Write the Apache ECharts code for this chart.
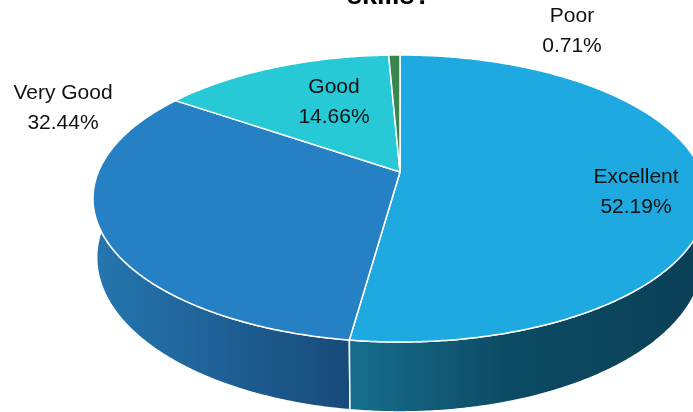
<!DOCTYPE html>
<html>
<head>
<meta charset="utf-8">
<script src="https://cdn.jsdelivr.net/npm/echarts@6/dist/echarts.min.js"></script>
<style>
html,body{margin:0;padding:0;background:#fff;}
#chart{width:693px;height:412px;}
</style>
</head>
<body>
<div id="chart"></div>
<script>
// ---- data ----
const categories = ['Excellent', 'Very Good', 'Good', 'Poor'];
const values = [52.19, 32.44, 14.66, 0.71];
const titleText = 'skills?';

// ---- styles / layout ----
const topColors = ['#1EAAE0', '#2581C4', '#27C9D6', '#3A8550'];
const wallStops = [
  [[0, '#176E8E'], [0.45, '#0C4A63'], [1, '#0A4056']],
  [[0, '#2576B0'], [1, '#184A7A']],
  [[0, '#1C8F99'], [1, '#136870']],
  [[0, '#2A6139'], [1, '#1E4629']]
];
const labelAnchors = [[636, 192], [63, 108], [334, 102], [572, 31]];
const geo = { cx: 400, cy: 172, S: 301.7, T: 138.6, k: 0.1847, D: 57, s: 0.988 };

function proj(u, v) {
  const w = 1 + geo.k * v;
  return [geo.cx + geo.S * u / w, geo.cy - geo.T * v / w];
}
function projBottom(u, v) {
  const w = 1 + geo.k * v;
  return [geo.cx + geo.s * geo.S * u / w, geo.cy - geo.T * v / w + geo.D / w];
}
function angPt(deg, f) {
  const r = deg * Math.PI / 180;
  return f(Math.sin(r), Math.cos(r));
}
function sliceRange(i) {
  const total = values.reduce((a, b) => a + b, 0);
  let s = 0;
  for (let j = 0; j < i; j++) s += values[j];
  return [s / total * 360, (s + values[i]) / total * 360];
}
function arc(a1, a2, f) {
  const n = Math.max(2, Math.ceil(Math.abs(a2 - a1) / 0.5));
  const pts = [];
  for (let j = 0; j <= n; j++) pts.push(angPt(a1 + (a2 - a1) * j / n, f));
  return pts;
}

const chart = echarts.init(document.getElementById('chart'), null, { renderer: 'canvas' });

const seriesData = values.map((v, i) => ({ name: categories[i], value: [i, v] }));

const option = {
  animation: false,
  backgroundColor: '#ffffff',
  graphic: [{
    type: 'text',
    x: 389, y: -3,
    style: {
      text: titleText,
      font: 'bold 27px "Liberation Sans", Arial, sans-serif',
      fill: '#000',
      align: 'center',
      verticalAlign: 'middle'
    },
    z: 10
  }],
  series: [
    {
      type: 'custom',
      coordinateSystem: 'none',
      silent: true,
      z: 1,
      data: seriesData.slice().reverse(),
      renderItem: function (params, api) {
        const i = api.value(0);
        const [a1, a2] = sliceRange(i);
        const b1 = Math.max(a1, 90), b2 = Math.min(a2, 270);
        if (b2 <= b1) return { type: 'group', children: [] };
        const top = arc(b1, b2, proj);
        const bot = arc(b1, b2, projBottom).reverse();
        const xs = top.concat(bot).map(p => p[0]);
        const minX = Math.min.apply(null, xs), maxX = Math.max.apply(null, xs);
        const grad = new echarts.graphic.LinearGradient(minX, 0, maxX, 0,
          wallStops[i].map(s => ({ offset: s[0], color: s[1] })), true);
        return {
          type: 'polygon',
          shape: { points: top.concat(bot) },
          style: { fill: grad, stroke: '#ffffff', lineWidth: 1.5, lineJoin: 'round' }
        };
      }
    },
    {
      type: 'custom',
      coordinateSystem: 'none',
      silent: true,
      z: 2,
      data: seriesData,
      renderItem: function (params, api) {
        const i = api.value(0);
        const [a1, a2] = sliceRange(i);
        const pts = [[geo.cx, geo.cy]].concat(arc(a1, a2, proj));
        return {
          type: 'polygon',
          shape: { points: pts },
          style: { fill: topColors[i], stroke: '#ffffff', lineWidth: 1.5, lineJoin: 'round' }
        };
      }
    },
    {
      type: 'custom',
      coordinateSystem: 'none',
      silent: true,
      z: 3,
      data: seriesData,
      renderItem: function (params, api) {
        const i = api.value(0);
        const v = api.value(1);
        const p = labelAnchors[i];
        return {
          type: 'text',
          x: p[0], y: p[1],
          style: {
            text: categories[i] + '\n' + v.toFixed(2) + '%',
            font: '21px "Liberation Sans", Arial, sans-serif',
            fill: '#111',
            align: 'center',
            verticalAlign: 'middle',
            lineHeight: 30
          }
        };
      }
    }
  ]
};
chart.setOption(option);
</script>
</body>
</html>
